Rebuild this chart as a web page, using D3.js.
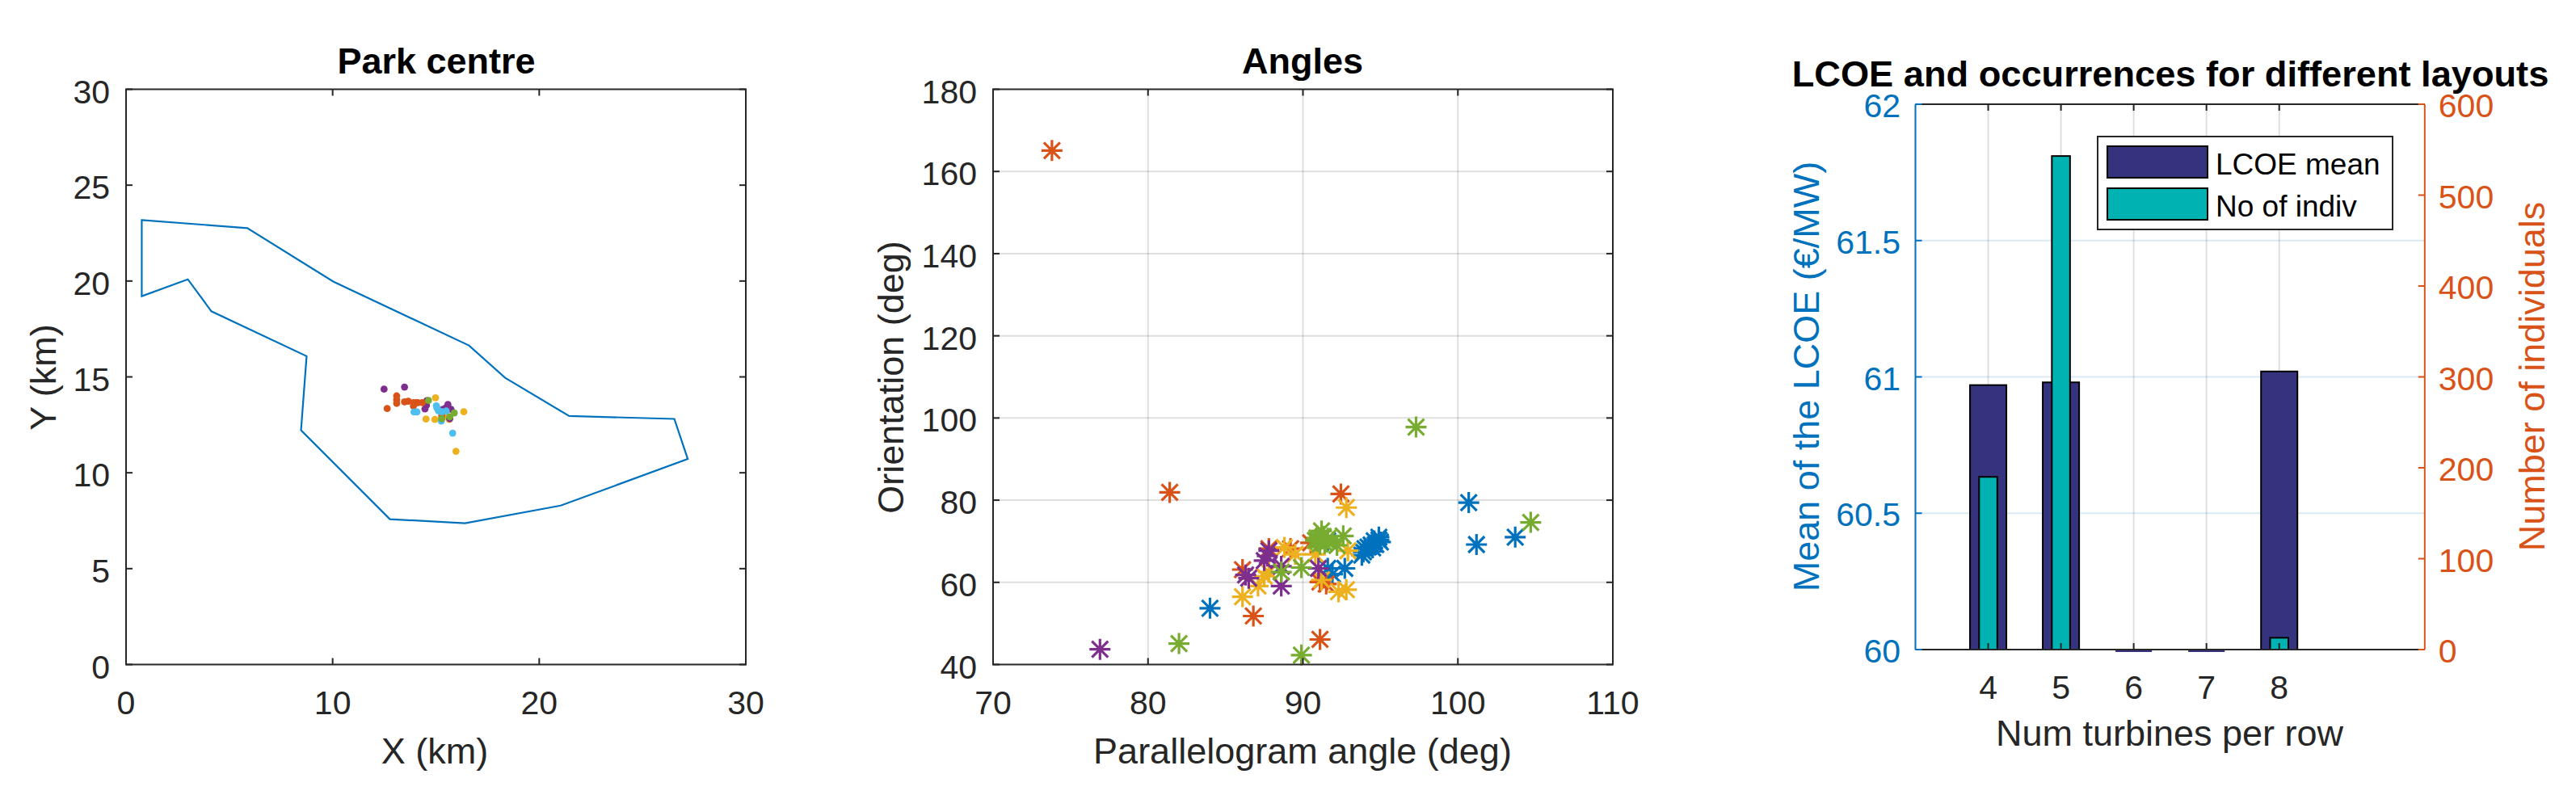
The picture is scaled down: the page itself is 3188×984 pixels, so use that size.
<!DOCTYPE html>
<html><head><meta charset="utf-8">
<script src="https://cdnjs.cloudflare.com/ajax/libs/d3/7.8.5/d3.min.js"></script>
<style>html,body{margin:0;background:#fff}text{font-family:"Liberation Sans",Arial,sans-serif}</style>
</head><body><svg id="c" width="3188" height="984"></svg>
<script>
const BLUE="#0072BD",ORANGE="#D95319",YELLOW="#EDB120",PURPLE="#7E2F8E",GREEN="#77AC30",CYAN="#4DBEEE",INK="#262626";
// Panel 1
const boundary=[[0.76,23.18],[5.87,22.76],[10.03,19.97],[16.6,16.64],[18.35,14.95],[21.45,12.96],[26.54,12.81],[27.19,10.72],[21.04,8.29],[16.41,7.37],[12.77,7.58],[8.47,12.22],[8.74,16.08],[4.13,18.42],[2.99,20.09],[0.76,19.21]];
const centreYellow=[[14.98,13.91],[16.35,13.18],[14.52,12.8],[14.95,12.78],[15.64,12.78],[15.97,11.12],[15.4,12.95]];
const centrePurple=[[12.49,14.36],[13.48,14.47],[14.56,13.76],[14.54,13.52],[14.47,13.33],[15.58,13.56],[15.73,13.31],[15.34,13.31],[15.67,12.82],[15.5,13.4]];
const centreOrange=[[12.64,13.35],[13.1,14.01],[13.1,13.8],[13.1,13.62],[13.48,13.7],[13.66,13.73],[13.91,13.66],[14.13,13.66],[14.34,13.66],[13.91,13.48],[14.05,13.66],[15.28,12.96]];
const centreCyan=[[13.94,13.17],[14.08,13.17],[15.02,13.49],[15.12,13.24],[15.2,13.2],[15.3,13.18],[15.5,13.22],[15.05,13.38],[15.26,12.7],[15.81,12.07]];
const centreGreen=[[14.64,13.77],[15.89,13.12],[15.67,12.92],[15.28,12.82]];
// Panel 2
const angBlue=[[84.0,53.7],[100.7,79.4],[101.2,69.2],[103.7,71.0],[94.9,71],[94.6,70.1],[94.4,69.1],[94.0,68.2],[93.8,66.6],[95,69.8],[94.7,69.2],[94.5,68.4],[94.2,68.6],[94.9,70.3],[93.9,67.4],[92.7,63.4],[91.6,63.4],[91.9,62],[91.6,70.1]];
const angOrange=[[73.8,165.1],[81.4,81.9],[92.45,81.5],[86.8,51.8],[91.1,46.1],[86.1,63.1],[90.5,69.6],[87.8,68.2],[89.2,68.2],[91.1,60.1],[91.5,59.6]];
const angYellow=[[92.8,78.2],[86.1,56.5],[92.3,57.7],[92.8,58.2],[92.9,67.7],[88.8,68.5],[89.5,66.8],[87.5,61.5],[87.1,59.1],[90.8,66.8],[91.2,60.6],[87.8,62.5]];
const angPurple=[[76.9,43.7],[86.5,61],[86.3,61.8],[87.8,67.7],[87.5,65.3],[87.7,66.4],[88.6,59.1],[88.6,63.9],[91,63.4]];
const angGreen=[[97.3,97.8],[104.7,74.6],[82.0,45.1],[89.9,42.3],[92.6,71.3],[91.2,72.5],[91,70],[91.2,70.6],[91.4,69.5],[90.9,70.8],[91.5,70.2],[91.1,69.3],[91.3,71.2],[90.8,70.2],[91.6,70.7],[92.2,69],[89.9,63.6],[88.6,62.5]];
// Panel 3
const rowCounts=[4,5,6,7,8];
const lcoeMean=[60.97,60.98,60,60,61.02];
const numIndiv=[190,543,0,0,13];
const lcoeTicks=[60,60.5,61,61.5,62];
const indivTicks=[0,100,200,300,400,500,600];
const legendLabels=["LCOE mean","No of indiv"];

const svg=d3.select("#c");
const FS=41,LS=45,LW=2;
function label(x,y,t,o={}){
  return svg.append("text").attr("x",x).attr("y",y).attr("text-anchor",o.anchor||"middle").attr("font-size",o.size||FS)
    .attr("font-weight",o.bold?700:400).attr("fill",o.fill||INK).attr("transform",o.rot?`rotate(${o.rot} ${x} ${y})`:null).text(t);
}
function frame(g,x,y,xt,yt,TL){
  const [x0,x1]=x.range(),[y0,y1]=y.range();
  xt.forEach(t=>{
    g.append("line").attr("x1",x(t)).attr("x2",x(t)).attr("y1",y0).attr("y2",y0-TL);
    g.append("line").attr("x1",x(t)).attr("x2",x(t)).attr("y1",y1).attr("y2",y1+TL);
  });
  yt.forEach(t=>{
    g.append("line").attr("y1",y(t)).attr("y2",y(t)).attr("x1",x0).attr("x2",x0+TL);
    g.append("line").attr("y1",y(t)).attr("y2",y(t)).attr("x1",x1).attr("x2",x1-TL);
  });
  g.append("rect").attr("x",x0).attr("y",y1).attr("width",x1-x0).attr("height",y0-y1).attr("fill","none");
  g.attr("stroke",INK).attr("stroke-width",LW);
}
function grid(g,x,y,xt,yt){
  g.attr("stroke","#262626").attr("stroke-opacity",.15).attr("stroke-width",LW);
  xt.forEach(t=>g.append("line").attr("x1",x(t)).attr("x2",x(t)).attr("y1",y.range()[0]).attr("y2",y.range()[1]));
  yt.forEach(t=>g.append("line").attr("y1",y(t)).attr("y2",y(t)).attr("x1",x.range()[0]).attr("x2",x.range()[1]));
}
function tickLabels(x,y,xt,yt){
  xt.forEach(t=>label(x(t),y.range()[0]+61,t));
  yt.forEach(t=>label(x.range()[0]-20,y(t)+17,t,{anchor:"end"}));
}
// ---- Panel 1
{
  const x=d3.scaleLinear([0,30],[156,923]),y=d3.scaleLinear([0,30],[822.5,110.5]);
  const xt=d3.range(0,31,10),yt=d3.range(0,31,5);
  svg.append("path").attr("d",d3.line().x(d=>x(d[0])).y(d=>y(d[1])).curve(d3.curveLinearClosed)(boundary)).attr("fill","none").attr("stroke",BLUE).attr("stroke-width",2.2);
  [[centreYellow,YELLOW],[centrePurple,PURPLE],[centreOrange,ORANGE],[centreCyan,CYAN],[centreGreen,GREEN]].forEach(([a,c])=>{
    svg.append("g").selectAll("circle").data(a).join("circle").attr("cx",d=>x(d[0])).attr("cy",d=>y(d[1])).attr("r",4.4).attr("fill",c);
  });
  frame(svg.append("g").attr("fill","none"),x,y,xt,yt,8);
  tickLabels(x,y,xt,yt);
  label(538,945,"X (km)",{size:LS});
  label(69,467,"Y (km)",{size:LS,rot:-90});
  label(540,91,"Park centre",{size:LS,bold:true,fill:"#000"});
}
// ---- Panel 2
{
  const x=d3.scaleLinear([70,110],[1229,1996]),y=d3.scaleLinear([40,180],[822.5,110.5]);
  const xt=d3.range(70,111,10),yt=d3.range(40,181,20);
  grid(svg.append("g"),x,y,xt.slice(1,-1),yt.slice(1,-1));
  const R=13,D=10;
  const star=`M${-R} 0H${R}M0 ${-R}V${R}M${-D} ${-D}L${D} ${D}M${-D} ${D}L${D} ${-D}`;
  [[angBlue,BLUE],[angOrange,ORANGE],[angYellow,YELLOW],[angPurple,PURPLE],[angGreen,GREEN]].forEach(([a,c])=>{
    svg.append("g").selectAll("path").data(a).join("path").attr("d",star).attr("transform",d=>`translate(${x(d[0])},${y(d[1])})`).attr("fill","none").attr("stroke",c).attr("stroke-width",3.2);
  });
  frame(svg.append("g").attr("fill","none"),x,y,xt,yt,8);
  tickLabels(x,y,xt,yt);
  label(1612,945,"Parallelogram angle (deg)",{size:LS});
  label(1118,467,"Orientation (deg)",{size:LS,rot:-90});
  label(1612,91,"Angles",{size:LS,bold:true,fill:"#000"});
}
// ---- Panel 3
{
  const B=804,T=129;
  const x=d3.scaleLinear([3,10],[2370.5,3000.8]),yL=d3.scaleLinear([60,62],[B,T]),yR=d3.scaleLinear([0,600],[B,T]);
  const [x0,x1]=x.range();
  const g=svg.append("g").attr("stroke-width",LW);
  rowCounts.forEach(t=>g.append("line").attr("x1",x(t)).attr("x2",x(t)).attr("y1",B).attr("y2",T).attr("stroke",INK).attr("stroke-opacity",.15));
  lcoeTicks.slice(1,-1).forEach(t=>g.append("line").attr("x1",x0).attr("x2",x1).attr("y1",yL(t)).attr("y2",yL(t)).attr("stroke",BLUE).attr("stroke-opacity",.15));
  const NAVY="#35327E",TEAL="#00B2B2";
  svg.append("g").selectAll("rect").data(rowCounts).join("rect").attr("x",d=>x(d-.25)).attr("width",x(3.5)-x(3)).attr("y",(d,i)=>yL(lcoeMean[i])).attr("height",(d,i)=>yL(60)-yL(lcoeMean[i])+(lcoeMean[i]===60?3:0)).attr("fill",NAVY).attr("stroke","#000").attr("stroke-width",(d,i)=>lcoeMean[i]===60?0:2);
  svg.append("g").selectAll("rect").data(rowCounts).join("rect").attr("x",d=>x(d-.125)).attr("width",x(3.25)-x(3)).attr("y",(d,i)=>yR(numIndiv[i])).attr("height",(d,i)=>yR(0)-yR(numIndiv[i])).attr("fill",TEAL).attr("stroke","#000").attr("stroke-width",(d,i)=>numIndiv[i]===0?0:2);
  const a=svg.append("g").attr("stroke-width",LW);
  a.append("line").attr("x1",x0).attr("x2",x1).attr("y1",B).attr("y2",B).attr("stroke",INK);
  a.append("line").attr("x1",x0).attr("x2",x1).attr("y1",T).attr("y2",T).attr("stroke",INK);
  a.append("line").attr("x1",x0).attr("x2",x0).attr("y1",T).attr("y2",B).attr("stroke",BLUE);
  a.append("line").attr("x1",x1).attr("x2",x1).attr("y1",T).attr("y2",B).attr("stroke",ORANGE);
  rowCounts.forEach(t=>{
    a.append("line").attr("x1",x(t)).attr("x2",x(t)).attr("y1",B).attr("y2",B-8).attr("stroke",INK);
    a.append("line").attr("x1",x(t)).attr("x2",x(t)).attr("y1",T).attr("y2",T+8).attr("stroke",INK);
    label(x(t),B+61,t);
  });
  lcoeTicks.forEach(t=>{
    a.append("line").attr("x1",x0).attr("x2",x0+8).attr("y1",yL(t)).attr("y2",yL(t)).attr("stroke",BLUE);
    label(x0-18.5,yL(t)+16,t,{anchor:"end",fill:BLUE});
  });
  indivTicks.forEach(t=>{
    a.append("line").attr("x1",x1).attr("x2",x1-8).attr("y1",yR(t)).attr("y2",yR(t)).attr("stroke",ORANGE);
    label(x1+17,yR(t)+16,t,{anchor:"start",fill:ORANGE});
  });
  label(2685,923,"Num turbines per row",{size:LS});
  label(2251,466,"Mean of the LCOE (€/MW)",{size:LS,rot:-90,fill:BLUE});
  label(3149,466,"Number of individuals",{size:LS,rot:-90,fill:ORANGE});
  label(2686,107,"LCOE and occurrences for different layouts",{size:45.2,bold:true,fill:"#000"});
  svg.append("rect").attr("x",2596).attr("y",169).attr("width",365).attr("height",115).attr("fill","#fff").attr("stroke",INK).attr("stroke-width",2);
  [[NAVY,181],[TEAL,233]].forEach(([c,yy],i)=>{
    svg.append("rect").attr("x",2608).attr("y",yy).attr("width",124).attr("height",39).attr("fill",c).attr("stroke","#000").attr("stroke-width",2);
    label(2742,yy+(i?35:34.5),legendLabels[i],{anchor:"start",size:37,fill:"#000"});
  });
}
</script></body></html>
